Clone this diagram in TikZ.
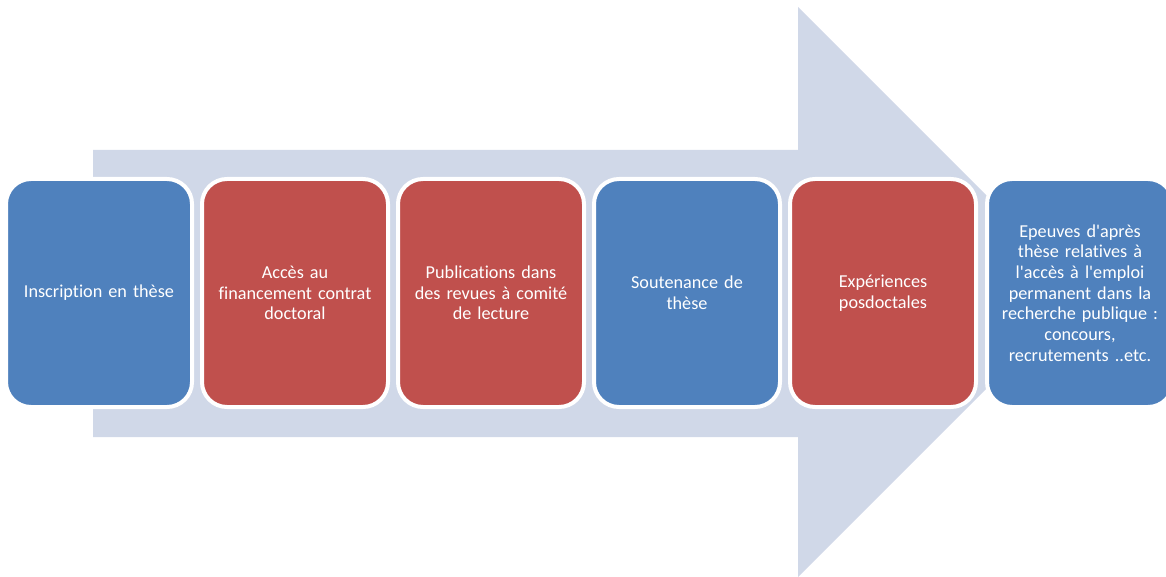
\documentclass[tikz,border=0pt]{standalone}
\usepackage{fontspec}
\setmainfont{Carlito}[Ligatures={TeXOff,CommonOff}]
\definecolor{arrowfill}{HTML}{D0D8E8}
\definecolor{boxblue}{HTML}{4F81BD}
\definecolor{boxred}{HTML}{C0504D}
\begin{document}
\begin{tikzpicture}[x=1pt,y=-1pt,
  stage/.style={rectangle, rounded corners=25pt, draw=white, line width=4pt,
    minimum width=186pt, minimum height=228pt, inner sep=0pt,
    text=white, align=center, text width=178pt,
    font=\fontsize{18.2}{20.7}\selectfont},
  bluestage/.style={stage, fill=boxblue},
  redstage/.style={stage, fill=boxred}]
\useasboundingbox (0,0) rectangle (1166,577);
\clip (0,0) rectangle (1166,577);
\fill[arrowfill] (93,150) -- (798,150) -- (798,7) -- (1083,292) -- (798,577) -- (798,437) -- (93,437) -- cycle;
\node[bluestage] (b1) at (99,293) {Inscription en thèse};
\node[redstage] (b2) at (295,293) {Accès au\\financement contrat\\doctoral};
\node[redstage] (b3) at (491,293) {Publications dans\\des revues à comité\\de lecture};
\node[bluestage] (b4) at (687,293) {Soutenance de\\thèse};
\node[redstage] (b5) at (883,293) {Expériences\\posdoctales};
\node[bluestage] (b6) at (1080,293) {Epeuves d'après\\thèse relatives à\\l'accès à l'emploi\\permanent dans la\\recherche publique :\\concours,\\recrutements ..etc.};
\end{tikzpicture}
\end{document}
